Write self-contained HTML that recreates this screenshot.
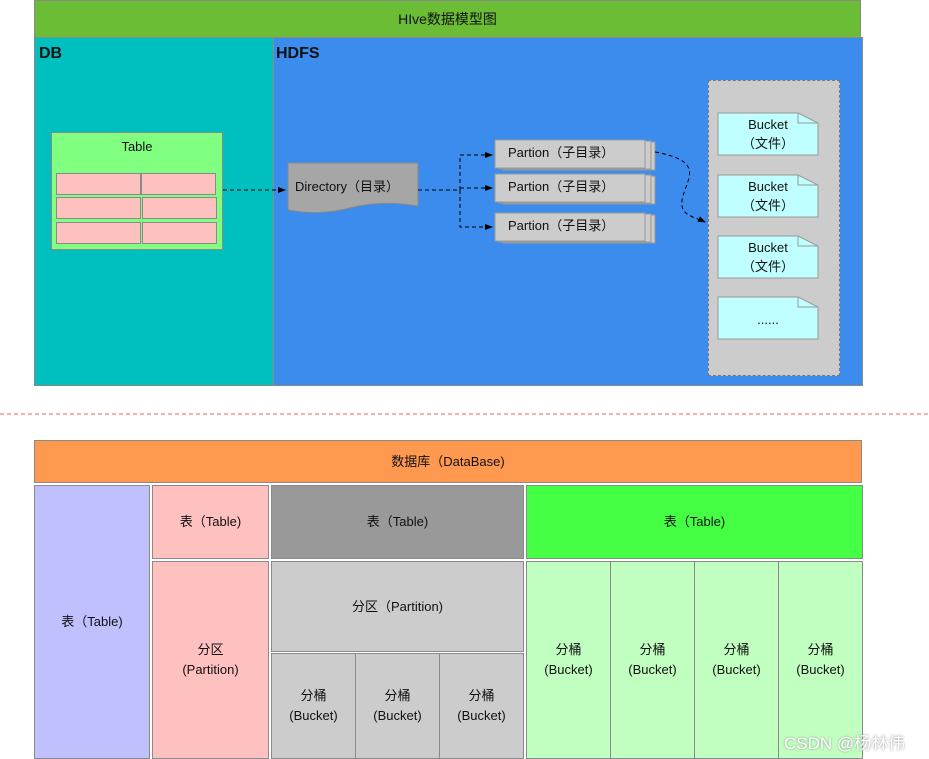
<!DOCTYPE html>
<html><head><meta charset="utf-8"><style>
body{margin:0;width:929px;height:759px;background:#fff;position:relative;overflow:hidden;font-family:"Liberation Sans","Noto Sans CJK SC",sans-serif;font-size:13px;color:#111}
.b{position:absolute;box-sizing:border-box;border:1px solid #8a8a8a;display:flex;align-items:center;justify-content:center;text-align:center;line-height:20px}
</style></head><body>
<div class="b" style="left:34px;top:0;width:827px;height:38px;background:#6bbd36;font-size:14px">HIve数据模型图</div>
<div class="b" style="left:34px;top:37px;width:240px;height:349px;background:#00bfbf;align-items:flex-start;justify-content:flex-start;padding:6px 4px;font-weight:bold;font-size:16px">DB</div>
<div class="b" style="left:273px;top:37px;width:590px;height:349px;background:#3b8ced;align-items:flex-start;justify-content:flex-start;padding:6px 2px;font-weight:bold;font-size:16px">HDFS</div>
<div class="b" style="left:51px;top:132px;width:172px;height:118px;background:#80ff80;align-items:flex-start;padding-top:4px">Table</div>
<div class="b" style="left:56px;top:173px;width:85px;height:22px;background:#ffc0c0"></div>
<div class="b" style="left:141px;top:173px;width:75px;height:22px;background:#ffc0c0"></div>
<div class="b" style="left:56px;top:197px;width:85px;height:22px;background:#ffc0c0"></div>
<div class="b" style="left:142px;top:197px;width:75px;height:22px;background:#ffc0c0"></div>
<div class="b" style="left:56px;top:222px;width:85px;height:22px;background:#ffc0c0"></div>
<div class="b" style="left:142px;top:222px;width:75px;height:22px;background:#ffc0c0"></div>
<div class="b" style="left:708px;top:80px;width:132px;height:296px;background:#cccccc;border:1px dashed #777"></div>
<svg style="position:absolute;left:0;top:0" width="929" height="759">
<defs><marker id="a" markerWidth="8" markerHeight="8" refX="7" refY="4" orient="auto"><path d="M0,1 L8,4 L0,7z" fill="#000"/></marker></defs>
<path d="M288,163 L418,163 L418,206 Q380,200 350,208 Q320,216 288,210 Z" fill="#a6a6a6" stroke="#888"/>
<g fill="#cccccc" stroke="#999">
<rect x="503" y="142" width="152" height="28"/><rect x="499" y="141" width="152" height="28"/><rect x="495" y="140" width="150" height="28"/>
<rect x="503" y="176" width="152" height="28"/><rect x="499" y="175" width="152" height="28"/><rect x="495" y="174" width="150" height="28"/>
<rect x="503" y="215" width="152" height="28"/><rect x="499" y="214" width="152" height="28"/><rect x="495" y="213" width="150" height="28"/>
</g>
<g fill="#bfffff" stroke="#999">
<path d="M718,113 h80 l20,10 v32 h-100z"/><path d="M798,113 v10 h20" fill="none"/>
<path d="M718,175 h80 l20,10 v32 h-100z"/><path d="M798,175 v10 h20" fill="none"/>
<path d="M718,236 h80 l20,10 v32 h-100z"/><path d="M798,236 v10 h20" fill="none"/>
<path d="M718,297 h80 l20,10 v32 h-100z"/><path d="M798,297 v10 h20" fill="none"/>
</g>
<g fill="none" stroke="#000" stroke-dasharray="4,3">
<path d="M223,190 L285,190" marker-end="url(#a)"/>
<path d="M418,190 L460,190 L460,155 L492,155" marker-end="url(#a)"/>
<path d="M460,188 L492,188" marker-end="url(#a)"/>
<path d="M460,190 L460,227 L492,227" marker-end="url(#a)"/>
<path d="M655,152 C700,160 690,175 685,190 C675,215 690,215 705,222" marker-end="url(#a)"/>
</g>
<line x1="0" y1="414" x2="929" y2="414" stroke="#e06060" stroke-dasharray="4,3"/>
<g font-family="Liberation Sans,Noto Sans CJK SC,sans-serif" font-size="13" fill="#111">
<text x="295" y="191">Directory（目录）</text>
<text x="508" y="157">Partion（子目录）</text>
<text x="508" y="191">Partion（子目录）</text>
<text x="508" y="230">Partion（子目录）</text>
<g text-anchor="middle">
<text x="768" y="129">Bucket</text><text x="768" y="148">（文件）</text>
<text x="768" y="191">Bucket</text><text x="768" y="210">（文件）</text>
<text x="768" y="252">Bucket</text><text x="768" y="271">（文件）</text>
<text x="768" y="324">......</text>
</g></g>
</svg>
<div class="b" style="left:34px;top:440px;width:828px;height:43px;background:#ff9950">数据库（DataBase)</div>
<div class="b" style="left:34px;top:485px;width:116px;height:274px;background:#c0c0ff">表（Table)</div>
<div class="b" style="left:152px;top:485px;width:117px;height:74px;background:#ffc0c0">表（Table)</div>
<div class="b" style="left:152px;top:561px;width:117px;height:198px;background:#ffc0c0">分区<br>(Partition)</div>
<div class="b" style="left:271px;top:485px;width:253px;height:74px;background:#999999">表（Table)</div>
<div class="b" style="left:271px;top:561px;width:253px;height:91px;background:#cccccc">分区（Partition)</div>
<div class="b" style="left:271px;top:653px;width:85px;height:106px;background:#cccccc">分桶<br>(Bucket)</div>
<div class="b" style="left:355px;top:653px;width:85px;height:106px;background:#cccccc">分桶<br>(Bucket)</div>
<div class="b" style="left:439px;top:653px;width:85px;height:106px;background:#cccccc">分桶<br>(Bucket)</div>
<div class="b" style="left:526px;top:485px;width:337px;height:74px;background:#44ff44">表（Table)</div>
<div class="b" style="left:526px;top:561px;width:85px;height:198px;background:#c0ffc0">分桶<br>(Bucket)</div>
<div class="b" style="left:610px;top:561px;width:85px;height:198px;background:#c0ffc0">分桶<br>(Bucket)</div>
<div class="b" style="left:694px;top:561px;width:85px;height:198px;background:#c0ffc0">分桶<br>(Bucket)</div>
<div class="b" style="left:778px;top:561px;width:85px;height:198px;background:#c0ffc0">分桶<br>(Bucket)</div>
<div style="position:absolute;left:784px;top:729px;font-size:17px;color:#fff;text-shadow:0 0 2px #888">CSDN @杨林伟</div>
</body></html>
